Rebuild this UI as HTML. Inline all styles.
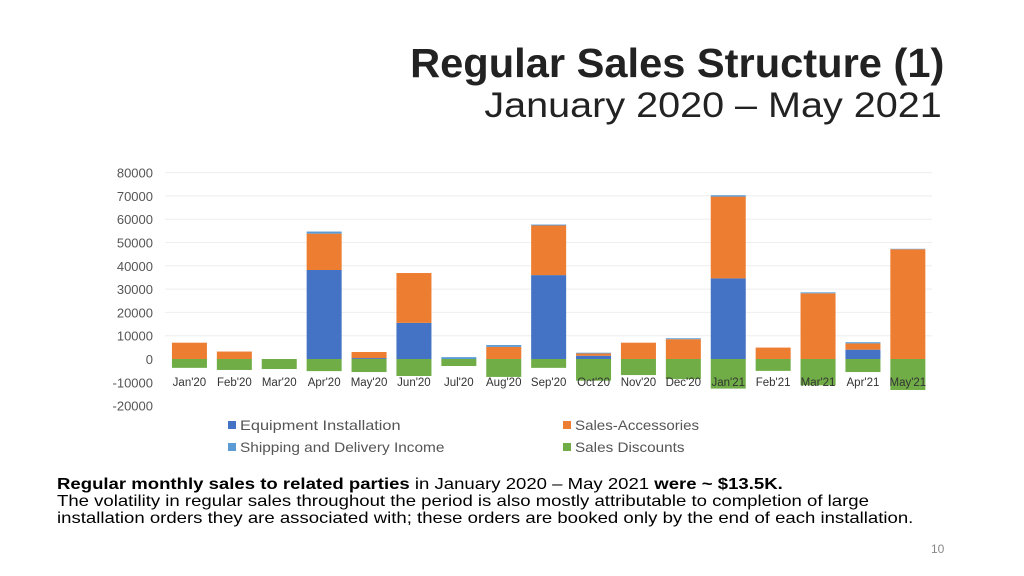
<!DOCTYPE html>
<html><head><meta charset="utf-8"><style>
body{margin:0;width:1024px;height:576px;background:#fff;font-family:"Liberation Sans",sans-serif;position:relative;overflow:hidden}
.t{position:absolute;white-space:nowrap}
</style></head><body>
<div class="t" style="right:80px;top:40px;font-size:41px;font-weight:bold;color:#222;transform:scaleX(1.015);transform-origin:right">Regular Sales Structure (1)</div>
<div class="t" style="right:82px;top:86px;font-size:35px;color:#222;transform:scaleX(1.13);transform-origin:right">January 2020 – May 2021</div>
<svg id="chart" width="1024" height="470" style="position:absolute;left:0;top:0"></svg>
<div style="position:absolute;left:57px;top:476px;transform:scaleX(1.16);transform-origin:left">
<div class="t" style="left:0;top:0;font-size:16px;color:#000"><b>Regular monthly sales to related parties</b> in January 2020 – May 2021 <b>were ~ $13.5K.</b></div>
<div class="t" style="left:0;top:17px;font-size:16px;color:#000">The volatility in regular sales throughout the period is also mostly attributable to completion of large</div>
<div class="t" style="left:0;top:34px;font-size:16px;color:#000">installation orders they are associated with; these orders are booked only by the end of each installation.</div>
</div>
<div class="t" style="left:931px;top:542px;font-size:12px;color:#888">10</div>
<script>
const categories=["Jan'20","Feb'20","Mar'20","Apr'20","May'20","Jun'20","Jul'20","Aug'20","Sep'20","Oct'20","Nov'20","Dec'20","Jan'21","Feb'21","Mar'21","Apr'21","May'21"];
const equipment=[0,0,0,38200,400,15500,0,0,36000,1400,0,0,34600,0,0,4000,0];
const accessories=[7000,3200,0,15600,2600,21400,0,5200,21300,1000,7000,8500,35100,4900,28200,2700,47100];
const shipping=[0,0,0,900,0,0,800,800,400,300,0,400,600,0,400,500,200];
const discounts=[-3800,-4700,-4300,-5200,-5600,-7300,-3000,-7700,-3800,-9300,-6900,-8600,-12700,-5100,-11300,-5600,-13300];
const ticks=[80000,70000,60000,50000,40000,30000,20000,10000,0,-10000,-20000];
const svg=document.getElementById('chart');const NS='http://www.w3.org/2000/svg';
const y=v=>359-v*0.00233;const x0=167,step=44.9,bw=35;
const cx=i=>x0+step*i+step/2;
function mk(t,a){const e=document.createElementNS(NS,t);for(const k in a)e.setAttribute(k,a[k]);svg.appendChild(e);return e;}
ticks.forEach(v=>{
 if(v>0){const g=mk('line',{x1:165,x2:932,y1:y(v),y2:y(v),stroke:'#eeeeee','stroke-width':1});
 }
 const t=mk('text',{x:153,y:y(v)+5,'text-anchor':'end','font-size':13,fill:'#555','font-family':'Liberation Sans'});
 t.textContent=v;
});
const cols=['#4472C4','#ED7D31','#5B9BD5'];
categories.forEach((c,i)=>{
 let base=0;[equipment,accessories,shipping].forEach((s,k)=>{const v=s[i];if(v>0){
  const r=mk('rect',{x:cx(i)-bw/2,y:y(base+v),width:bw,height:y(base)-y(base+v),fill:cols[k]});
  base+=v;}});
 const d=discounts[i];const r=mk('rect',{x:cx(i)-bw/2,y:y(0),width:bw,height:y(d)-y(0),fill:'#70AD47'});
 
 const t=mk('text',{x:cx(i),y:386,'text-anchor':'middle','font-size':11.5,fill:'#333','font-family':'Liberation Sans'});
 t.textContent=c;
});
const leg=[['Equipment Installation','#4472C4',228,426],['Sales-Accessories','#ED7D31',563,426],['Shipping and Delivery Income','#5B9BD5',228,448],['Sales Discounts','#70AD47',563,448]];
leg.forEach(l=>{const r=mk('rect',{x:l[2],y:l[3]-5,width:8,height:8,fill:l[1]});
 
 const t=mk('text',{x:l[2]+12,y:l[3]+4,'font-size':14,fill:'#555','font-family':'Liberation Sans',textLength:l[0].length*7.3,lengthAdjust:'spacingAndGlyphs'});
 t.textContent=l[0];});
</script>
</body></html>
